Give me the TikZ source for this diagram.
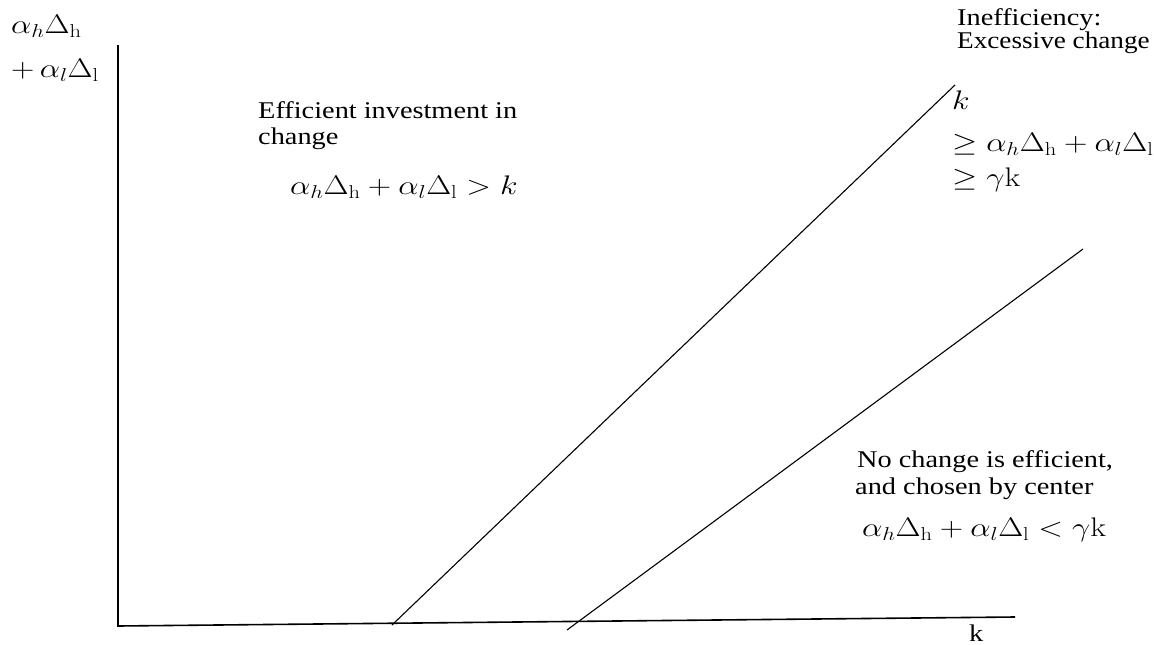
\documentclass[tikz,border=0pt]{standalone}
\usepackage{graphicx}
\usepackage[no-math]{fontspec}
\setmainfont{Liberation Serif}[FakeStretch=1.18]
\newcommand{\Mx}[1]{\scalebox{1.3}[1.08]{$#1$}}
\begin{document}
\begin{tikzpicture}[x=1pt,y=-1pt,
  lbl/.style={inner sep=0pt, anchor=west, font=\fontsize{24}{28}\selectfont},
  mth/.style={inner sep=0pt, anchor=west, font=\fontsize{24}{28}\selectfont},
  axis/.style={line width=1.6pt},
  bound/.style={line width=1.1pt}]
\useasboundingbox (0,0) rectangle (1154,645);
\coordinate (O) at (118,626);
\coordinate (ytop) at (118,45);
\coordinate (xend) at (1015,617);
\draw[axis] (ytop) -- (O) -- (xend);
\coordinate (a1) at (392,625); \coordinate (a2) at (955,85);
\coordinate (b1) at (567,630); \coordinate (b2) at (1083,249);
\draw[bound] (a1) -- (a2);
\draw[bound] (b1) -- (b2);
% y-axis label
\node[mth] (yl1) at (11,26) {\Mx{\alpha_h\Delta_{\mathrm{h}}}};
\node[mth] (yl2) at (11,70) {\Mx{+\,\alpha_l\Delta_{\mathrm{l}}}};
% x-axis label
\node[lbl] (xl) at (969,633) {k};
% top right
\node[lbl] (t1) at (957,20) {Inefficiency:};
\node[lbl] (t2) at (957,43) {\scalebox{0.96}[1]{Excessive change}};
\node[mth] (t3) at (952,100) {\Mx{k}};
\node[mth] (t4) at (952,144) {\Mx{\geq \alpha_h\Delta_{\mathrm{h}}+\alpha_l\Delta_{\mathrm{l}}}};
\node[mth] (t5) at (952,180) {\Mx{\geq \gamma\mathrm{k}}};
% upper left region
\node[lbl] (e1) at (258,110) {Efficient investment in};
\node[lbl] (e2) at (258,139) {change};
\node[mth] (e3) at (290,187) {\Mx{\alpha_h\Delta_{\mathrm{h}}+\alpha_l\Delta_{\mathrm{l}}>k}};
% lower right region
\node[lbl] (n1) at (857,462) {No change is efficient,};
\node[lbl] (n2) at (855,489) {and chosen by center};
\node[mth] (n3) at (862,530) {\Mx{\alpha_h\Delta_{\mathrm{h}}+\alpha_l\Delta_{\mathrm{l}}<\gamma\mathrm{k}}};
\end{tikzpicture}
\end{document}
